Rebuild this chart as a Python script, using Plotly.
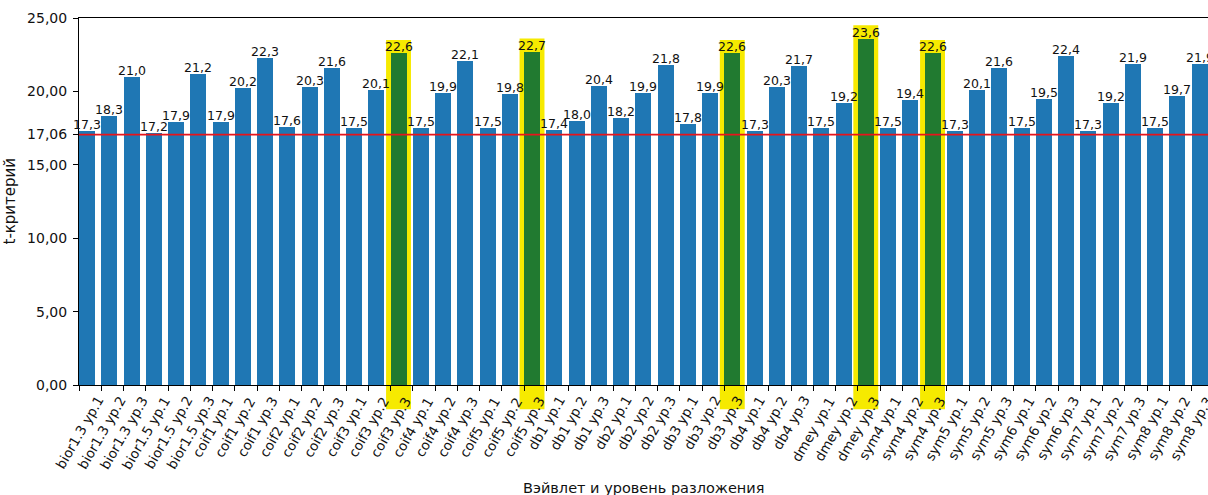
import plotly.graph_objects as go

# Wavelet / decomposition-level categories and their t-statistics
categories = [
    "bior1.3 ур.1", "bior1.3 ур.2", "bior1.3 ур.3",
    "bior1.5 ур.1", "bior1.5 ур.2", "bior1.5 ур.3",
    "coif1 ур.1", "coif1 ур.2", "coif1 ур.3",
    "coif2 ур.1", "coif2 ур.2", "coif2 ур.3",
    "coif3 ур.1", "coif3 ур.2", "coif3 ур.3",
    "coif4 ур.1", "coif4 ур.2", "coif4 ур.3",
    "coif5 ур.1", "coif5 ур.2", "coif5 ур.3",
    "db1 ур.1", "db1 ур.2", "db1 ур.3",
    "db2 ур.1", "db2 ур.2", "db2 ур.3",
    "db3 ур.1", "db3 ур.2", "db3 ур.3",
    "db4 ур.1", "db4 ур.2", "db4 ур.3",
    "dmey ур.1", "dmey ур.2", "dmey ур.3",
    "sym4 ур.1", "sym4 ур.2", "sym4 ур.3",
    "sym5 ур.1", "sym5 ур.2", "sym5 ур.3",
    "sym6 ур.1", "sym6 ур.2", "sym6 ур.3",
    "sym7 ур.1", "sym7 ур.2", "sym7 ур.3",
    "sym8 ур.1", "sym8 ур.2", "sym8 ур.3",
]

t_values = [
    17.3, 18.3, 21.0,
    17.2, 17.9, 21.2,
    17.9, 20.2, 22.3,
    17.6, 20.3, 21.6,
    17.5, 20.1, 22.6,
    17.5, 19.9, 22.1,
    17.5, 19.8, 22.7,
    17.4, 18.0, 20.4,
    18.2, 19.9, 21.8,
    17.8, 19.9, 22.6,
    17.3, 20.3, 21.7,
    17.5, 19.2, 23.6,
    17.5, 19.4, 22.6,
    17.3, 20.1, 21.6,
    17.5, 19.5, 22.4,
    17.3, 19.2, 21.9,
    17.5, 19.7, 21.9,
]

highlighted = ["coif3 ур.3", "coif5 ур.3", "db3 ур.3", "dmey ур.3", "sym4 ур.3"]

t_critical = 17.06
y_ticks = [0, 5, 10, 15, t_critical, 20, 25]

# Styling
BLUE = "#1f77b4"
GREEN = "#217a30"
YELLOW = "#f6ea00"
FONT = "DejaVu Sans"
BAR_W = 0.72
Y_MAX = 25
X_MAX = 50.74
HL_HALF = 0.56
HL_PAD = 0.9

positions = list(range(len(categories)))
colors = [GREEN if c in highlighted else BLUE for c in categories]

fig = go.Figure()
fig.add_trace(go.Bar(
    x=positions,
    y=t_values,
    width=BAR_W,
    offset=0,
    marker=dict(color=colors, line=dict(width=0)),
    hoverinfo="skip",
))

shapes = []
# yellow highlight behind the selected bars (extends below the axis)
for i, (c, v) in enumerate(zip(categories, t_values)):
    if c in highlighted:
        shapes.append(dict(
            type="rect", layer="below",
            xref="x", yref="paper",
            x0=i + BAR_W / 2 - HL_HALF, x1=i + BAR_W / 2 + HL_HALF,
            y0=-0.066, y1=(v + HL_PAD) / Y_MAX,
            fillcolor=YELLOW, line=dict(width=0),
        ))
# critical value line
shapes.append(dict(
    type="line", layer="above",
    xref="paper", yref="y",
    x0=0, x1=1, y0=t_critical, y1=t_critical,
    line=dict(color="#e8141b", width=1.8),
))

annotations = []
# value labels on top of bars
for i, v in enumerate(t_values):
    annotations.append(dict(
        x=i + BAR_W / 2, y=v, xref="x", yref="y",
        text=f"{v:.1f}".replace(".", ","),
        showarrow=False, xanchor="center", yanchor="bottom",
        yshift=-3,
        font=dict(family=FONT, size=12.5, color="#111111"),
    ))
# rotated category labels centred under each tick
for i, c in enumerate(categories):
    annotations.append(dict(
        x=i, y=0, xref="x", yref="paper",
        text=c, textangle=-60,
        showarrow=False, xanchor="center", yanchor="top",
        yshift=-6,
        font=dict(family=FONT, size=13.5, color="#111111"),
    ))
# axis titles
annotations.append(dict(
    x=0.5, y=-0.281, xref="paper", yref="paper",
    text="Вэйвлет и уровень разложения",
    showarrow=False, xanchor="center", yanchor="middle",
    font=dict(family=FONT, size=14.5, color="#111111"),
))
annotations.append(dict(
    x=-0.062, y=0.5, xref="paper", yref="paper",
    text="t-критерий", textangle=-90,
    showarrow=False, xanchor="center", yanchor="middle",
    font=dict(family=FONT, size=15, color="#111111"),
))

fig.update_layout(
    width=1208, height=495,
    margin=dict(l=79, r=0, t=18, b=110),
    paper_bgcolor="white", plot_bgcolor="white",
    separators=", ",
    showlegend=False,
    bargap=0,
    shapes=shapes,
    annotations=annotations,
    font=dict(family=FONT, color="#111111"),
)
fig.update_xaxes(
    range=[0, X_MAX],
    tickvals=positions,
    showticklabels=False,
    ticks="outside", ticklen=5, tickwidth=1, tickcolor="black",
    showline=True, linecolor="black", linewidth=1, mirror=True,
    showgrid=False, zeroline=False,
)
fig.update_yaxes(
    range=[0, Y_MAX],
    tickvals=y_ticks,
    tickformat=".2f",
    ticks="outside", ticklen=5, tickwidth=1, tickcolor="black",
    tickfont=dict(family=FONT, size=14, color="#111111"),
    ticklabelstandoff=3,
    showline=True, linecolor="black", linewidth=1,
    showgrid=False, zeroline=False,
)

fig.write_html("out.html")
